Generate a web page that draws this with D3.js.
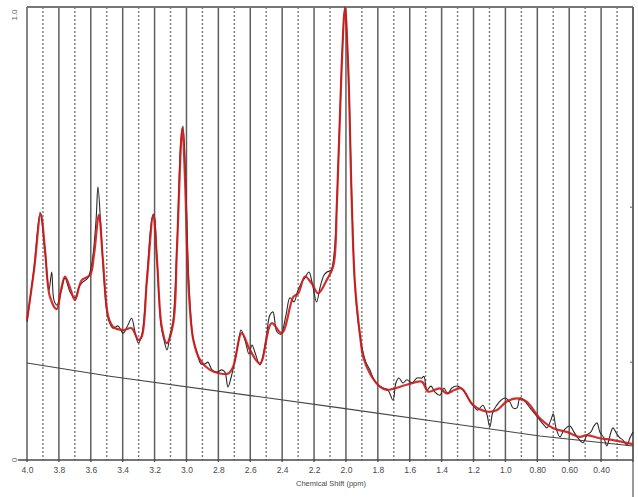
<!DOCTYPE html>
<html><head><meta charset="utf-8">
<script src="https://cdn.jsdelivr.net/npm/d3@7"></script>
<style>body{margin:0;background:#fff}svg{display:block}</style>
</head><body>
<svg id="c" width="638" height="497"></svg>
<script>
// ---- data ----
const xTickValues = [4.0,3.8,3.6,3.4,3.2,3.0,2.8,2.6,2.4,2.2,2.0,1.8,1.6,1.4,1.2,1.0,0.8,0.6,0.4];
const xTickLabels = ["4.0","3.8","3.6","3.4","3.2","3.0","2.8","2.6","2.4","2.2","2.0","1.8","1.6","1.4","1.2","1.0","0.80","0.60","0.40"];
const majorGrid = [4.0,3.8,3.6,3.4,3.2,3.0,2.8,2.6,2.4,2.2,2.0,1.8,1.6,1.4,1.2,1.0,0.8,0.6,0.4,0.2];
const minorGrid = [3.9,3.7,3.5,3.3,3.1,2.9,2.7,2.5,2.3,2.1,1.9,1.7,1.5,1.3,1.1,0.9,0.7,0.5,0.3];
const yTickValues = [0, 1];
const yTickLabels = ["0", "1.0"];
const rightTickValues = [0.216, 0.558];

const fitPpm = [4.000,3.956,3.914,3.887,3.856,3.814,3.787,3.762,3.730,3.699,3.657,3.605,3.580,3.549,3.524,3.490,3.459,3.396,3.344,3.302,3.281,3.248,3.208,3.185,3.155,3.124,3.083,3.060,3.026,3.009,2.989,2.957,2.915,2.853,2.790,2.738,2.707,2.654,2.602,2.539,2.466,2.403,2.330,2.299,2.257,2.215,2.174,2.121,2.080,2.056,2.027,2.006,1.986,1.964,1.944,1.912,1.892,1.850,1.787,1.745,1.619,1.525,1.484,1.411,1.369,1.317,1.275,1.202,1.118,1.055,0.992,0.930,0.867,0.784,0.700,0.616,0.533,0.491,0.408,0.324,0.200];
const fitVal = [0.309,0.419,0.543,0.464,0.360,0.333,0.375,0.405,0.380,0.353,0.397,0.408,0.453,0.541,0.442,0.316,0.294,0.287,0.291,0.265,0.272,0.397,0.541,0.442,0.294,0.258,0.302,0.464,0.733,0.618,0.397,0.265,0.221,0.199,0.191,0.191,0.206,0.280,0.243,0.213,0.302,0.280,0.360,0.368,0.405,0.390,0.368,0.397,0.427,0.574,0.868,0.998,0.868,0.574,0.391,0.276,0.228,0.191,0.162,0.155,0.166,0.173,0.151,0.158,0.147,0.155,0.158,0.121,0.107,0.110,0.129,0.136,0.129,0.092,0.070,0.062,0.051,0.055,0.048,0.044,0.035];

const rawPpm = [4.000,3.956,3.918,3.906,3.881,3.862,3.845,3.831,3.812,3.787,3.762,3.730,3.699,3.674,3.649,3.618,3.592,3.567,3.555,3.536,3.517,3.492,3.461,3.429,3.398,3.367,3.344,3.323,3.302,3.279,3.248,3.216,3.204,3.185,3.160,3.141,3.122,3.103,3.085,3.060,3.035,3.022,3.003,2.984,2.959,2.934,2.909,2.884,2.865,2.840,2.809,2.779,2.759,2.740,2.721,2.702,2.677,2.658,2.633,2.608,2.589,2.571,2.539,2.502,2.477,2.458,2.433,2.408,2.376,2.351,2.326,2.301,2.276,2.257,2.232,2.213,2.184,2.163,2.138,2.119,2.094,2.075,2.056,2.027,2.006,1.986,1.962,1.944,1.925,1.912,1.893,1.875,1.850,1.824,1.799,1.768,1.737,1.705,1.687,1.668,1.643,1.618,1.586,1.555,1.524,1.511,1.492,1.467,1.442,1.411,1.386,1.361,1.336,1.298,1.267,1.235,1.204,1.173,1.142,1.117,1.098,1.079,1.054,1.028,1.003,0.972,0.953,0.928,0.909,0.884,0.846,0.809,0.784,0.763,0.740,0.715,0.700,0.683,0.658,0.633,0.596,0.571,0.546,0.514,0.489,0.464,0.445,0.426,0.408,0.383,0.364,0.345,0.326,0.301,0.282,0.263,0.238,0.219,0.200];
const rawVal = [0.305,0.424,0.547,0.525,0.437,0.375,0.415,0.353,0.342,0.371,0.402,0.371,0.358,0.382,0.393,0.402,0.437,0.530,0.603,0.508,0.397,0.313,0.291,0.296,0.280,0.298,0.313,0.283,0.258,0.278,0.402,0.534,0.543,0.446,0.298,0.265,0.243,0.276,0.305,0.468,0.706,0.737,0.596,0.386,0.269,0.238,0.212,0.212,0.216,0.199,0.194,0.199,0.194,0.161,0.181,0.210,0.254,0.287,0.265,0.234,0.254,0.238,0.210,0.265,0.320,0.327,0.283,0.278,0.320,0.358,0.349,0.375,0.393,0.402,0.415,0.393,0.349,0.380,0.408,0.415,0.419,0.453,0.574,0.870,1.000,0.870,0.563,0.386,0.309,0.276,0.238,0.216,0.199,0.177,0.166,0.159,0.155,0.132,0.170,0.181,0.170,0.177,0.170,0.181,0.181,0.185,0.155,0.163,0.150,0.143,0.159,0.146,0.159,0.163,0.155,0.137,0.121,0.110,0.121,0.102,0.073,0.106,0.121,0.132,0.137,0.128,0.115,0.115,0.137,0.132,0.115,0.099,0.088,0.079,0.071,0.088,0.102,0.071,0.051,0.066,0.075,0.062,0.049,0.038,0.055,0.062,0.075,0.082,0.062,0.049,0.031,0.053,0.071,0.057,0.049,0.044,0.033,0.049,0.062];

const basePpm = [4.0,3.480,2.038,1.411,0.784,0.200];
const baseVal = [0.214,0.185,0.115,0.084,0.053,0.031];

const axisTitle = "Chemical Shift (ppm)";

// ---- chart ----
const svg = d3.select("#c");
const L = 27, R = 633, T = 7, B = 460;
const x = d3.scaleLinear().domain([4.0, 0.2]).range([L, R]);
const y = d3.scaleLinear().domain([0, 1]).range([B, T]);

// minor dotted grid
svg.append("g").selectAll("line").data(minorGrid).join("line")
  .attr("x1", d => x(d)).attr("x2", d => x(d)).attr("y1", T).attr("y2", B)
  .attr("stroke", "#7a7a7a").attr("stroke-width", 1.4).attr("stroke-dasharray", "2,2");
// major solid grid
svg.append("g").selectAll("line").data(majorGrid).join("line")
  .attr("x1", d => x(d)).attr("x2", d => x(d)).attr("y1", T).attr("y2", B + 2)
  .attr("stroke", "#5e5e5e").attr("stroke-width", 1.5);

// top border
svg.append("line").attr("x1", L).attr("x2", R).attr("y1", T).attr("y2", T)
  .attr("stroke", "#777").attr("stroke-width", 2);
// right border extending down
svg.append("line").attr("x1", R).attr("x2", R).attr("y1", T).attr("y2", 497)
  .attr("stroke", "#555").attr("stroke-width", 1.2);

// right ticks
svg.append("g").selectAll("line").data(rightTickValues).join("line")
  .attr("x1", R - 3).attr("x2", R).attr("y1", d => y(d)).attr("y2", d => y(d))
  .attr("stroke", "#666").attr("stroke-width", 1);

// baseline
svg.append("path").datum(basePpm.map((p, i) => [p, baseVal[i]]))
  .attr("d", d3.line().x(d => x(d[0])).y(d => y(d[1])))
  .attr("fill", "none").attr("stroke", "#444").attr("stroke-width", 1.1);

// raw spectrum
svg.append("path").datum(rawPpm.map((p, i) => [p, rawVal[i]]))
  .attr("d", d3.line().x(d => x(d[0])).y(d => y(d[1])).curve(d3.curveCatmullRom.alpha(0.5)))
  .attr("fill", "none").attr("stroke", "#2a2a2a").attr("stroke-width", 1.1);

// fit
svg.append("path").datum(fitPpm.map((p, i) => [p, fitVal[i]]))
  .attr("d", d3.line().x(d => x(d[0])).y(d => y(d[1])).curve(d3.curveCatmullRom.alpha(0.5)))
  .attr("fill", "none").attr("stroke", "#cc1a1a").attr("stroke-width", 2.2).attr("stroke-opacity", 0.9);

// x axis
const xAxis = d3.axisBottom(x).tickValues(xTickValues)
  .tickFormat((d, i) => xTickLabels[i]).tickSize(0).tickPadding(7);
const gx = svg.append("g").attr("transform", `translate(0,${B})`).call(xAxis);
gx.select(".domain").remove();
gx.selectAll("text").attr("font-family", "Arial, Liberation Sans, sans-serif")
  .attr("font-size", 8.5).attr("fill", "#4a4a4a");
svg.append("line").attr("x1", 18).attr("x2", R).attr("y1", B).attr("y2", B)
  .attr("stroke", "#4a4a4a").attr("stroke-width", 1.4);

// y labels (rotated)
svg.append("g").selectAll("text").data(yTickValues).join("text")
  .attr("transform", d => `translate(17,${y(d) + (d === 1 ? 8 : 0)}) rotate(-90)`)
  .attr("text-anchor", "middle").attr("font-family", "Arial, Liberation Sans, sans-serif")
  .attr("font-size", 8).attr("fill", "#666")
  .text((d, i) => yTickLabels[i]);

// axis title
svg.append("text").attr("x", 331).attr("y", 486).attr("text-anchor", "middle")
  .attr("font-family", "Arial, Liberation Sans, sans-serif").attr("font-size", 7.5)
  .attr("fill", "#4a4a4a").text(axisTitle);
</script>
</body></html>
